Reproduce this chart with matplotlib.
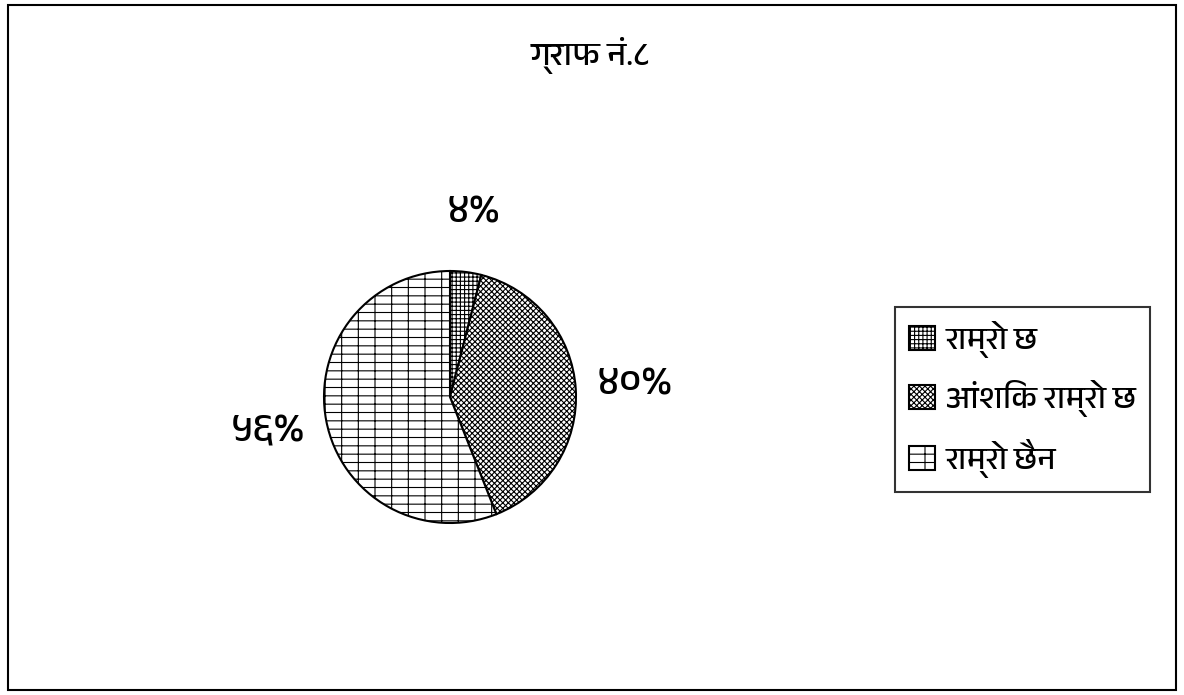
import matplotlib
matplotlib.use("Agg")
import matplotlib.pyplot as plt
from matplotlib import font_manager
from matplotlib.patches import Rectangle

# pick a Devanagari-capable font if one is installed
families = ["DejaVu Sans"]
for f in font_manager.fontManager.ttflist:
    if "Devanagari" in f.name or "Lohit" in f.name or "Mangal" in f.name:
        families.insert(0, f.name)
        break
plt.rcParams["font.family"] = families
plt.rcParams["hatch.linewidth"] = 0.8

title = "ग्राफ नं.८"
categories = ["राम्रो छ", "आंशिक राम्रो छ", "राम्रो छैन"]
values = [4, 40, 56]
value_labels = ["४%", "४०%", "५६%"]
hatches = ["++++", "xxxxxx", "+-"]

W, H = 1184, 695
fig = plt.figure(figsize=(W / 100, H / 100), dpi=100)
fig.patches.append(Rectangle((8 / W, 5 / H), 1168 / W, 685 / H, transform=fig.transFigure,
                             fill=False, edgecolor="black", linewidth=1.5))

cx, cy, r = 450, 397, 126
ax = fig.add_axes([(cx - r) / W, (H - cy - r) / H, 2 * r / W, 2 * r / H])
wedges, texts = ax.pie(
    values,
    labels=value_labels,
    startangle=90,
    counterclock=False,
    labeldistance=1.47,
    colors=["white", "white", "white"],
    wedgeprops=dict(edgecolor="black", linewidth=1.5),
    textprops=dict(fontsize=29),
)
for w, h in zip(wedges, hatches):
    w.set_hatch(h)
for t in texts:
    t.set_ha("center")
    t.set_va("center")
ax.set_xlim(-1, 1)
ax.set_ylim(-1, 1)
ax.set_aspect("equal")

fig.text(590 / W, 1 - 55 / H, title, ha="center", va="center",
         fontsize=24, fontweight="bold")

leg = fig.legend(wedges, categories, loc="upper left",
                 bbox_to_anchor=(895 / W, 1 - 307 / H), borderaxespad=0,
                 fancybox=False, frameon=True, fontsize=23,
                 handlelength=0.8, handleheight=0.8, handletextpad=0.35,
                 labelspacing=0.68, borderpad=0.45, edgecolor="black")
leg.get_frame().set_linewidth(1.5)

fig.savefig("out.png", dpi=100)
